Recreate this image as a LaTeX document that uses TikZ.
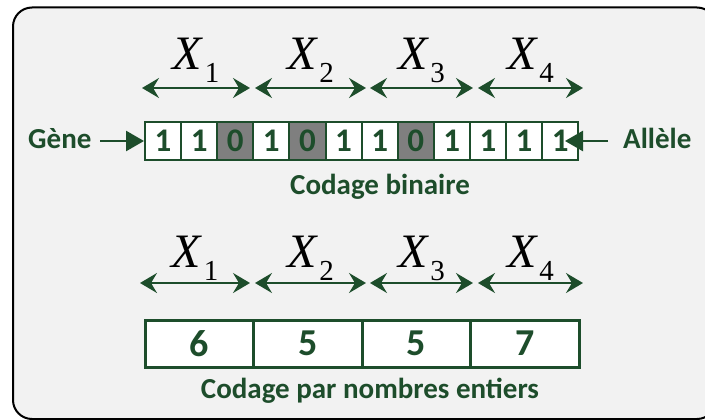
\documentclass[tikz,border=0pt]{standalone}
\usepackage{fontspec}
\setmainfont{Carlito}
\newfontfamily\tnr{Liberation Serif}
\usetikzlibrary{arrows.meta}
\definecolor{dg}{HTML}{1D4D2B}
\definecolor{cellgray}{HTML}{7F7F7F}
\definecolor{bg}{HTML}{F2F2F2}
\tikzset{
  lbl/.style={text=dg,font=\bfseries\fontsize{29}{29}\selectfont,inner sep=0pt},
  bcell/.style={draw=dg,line width=2pt,fill=white,minimum width=36.1pt,minimum height=38pt,inner sep=0pt,
     text=dg,font=\bfseries\fontsize{33}{33}\selectfont},
  icell/.style={draw=dg,line width=3pt,fill=white,minimum width=108.5pt,minimum height=47pt,inner sep=0pt,
     text=dg,font=\bfseries\fontsize{38}{38}\selectfont},
  span/.style={draw=dg,line width=2pt,{Stealth[length=17pt,width=20pt,inset=6pt]}-{Stealth[length=17pt,width=20pt,inset=6pt]}},
  ptr/.style={draw=dg,line width=2.6pt,-{Triangle[length=18pt,width=20pt]}},
  xlab/.style={inner sep=0pt,anchor=base}
}
\newcommand{\xl}[1]{{\tnr\itshape\fontsize{48}{48}\selectfont X}\kern3pt\raisebox{-13pt}{\tnr\fontsize{29}{29}\selectfont #1}}
\begin{document}
\begin{tikzpicture}[x=1pt,y=-1pt]
\useasboundingbox (0,0) rectangle (705,420);
\clip (0,0) rectangle (705,420);
\fill[white] (0,0) rectangle (705,420);
\draw[line width=2pt,fill=bg,rounded corners=19pt] (13,7.5) rectangle (716,419);
% binary cells
\foreach \v [count=\i] in {1,1,0,1,0,1,1,0,1,1,1,1}{
  \pgfmathsetmacro{\cx}{145+36.1*(\i-0.5)}
  \ifnum\v=0
    \node[bcell,fill=cellgray] (b\i) at (\cx,141) {\v};
  \else
    \node[bcell] (b\i) at (\cx,141) {\v};
  \fi
}
% integer cells
\foreach \v [count=\i] in {6,5,5,7}{
  \pgfmathsetmacro{\cx}{145+108.5*(\i-0.5)}
  \node[icell] (n\i) at (\cx,343.5) {\v};
}
% top spans
\foreach \i/\a/\b in {1/142/250,2/255/366,3/370/473,4/478/583}{
  \coordinate (ts\i) at (\a,88);
  \coordinate (te\i) at (\b,88);
  \draw[span] (ts\i) -- (te\i);
  \node[xlab] (tx\i) at ({(\a+\b)/2},70) {\xl{\i}};
}
% bottom spans
\foreach \i/\a/\b in {1/140/250,2/255/366,3/370/473,4/478/583}{
  \coordinate (bs\i) at (\a,283);
  \coordinate (be\i) at (\b,283);
  \draw[span] (bs\i) -- (be\i);
  \node[xlab] (bx\i) at ({(\a+\b)/2},267) {\xl{\i}};
}
% labels
\node[lbl,anchor=base west] (gene) at (28,148) {Gène};
\node[lbl,anchor=base west] (allele) at (623,148) {Allèle};
\node[lbl,anchor=base] (cb) at (380,194) {Codage binaire};
\node[lbl,anchor=base] (cn) at (370,398) {Codage par nombres entiers};
\coordinate (gs) at (100,141);
\coordinate (ae) at (608,141);
\draw[ptr] (gs) -- (b1.west);
\draw[ptr] (ae) -- (565,141);
\end{tikzpicture}
\end{document}
